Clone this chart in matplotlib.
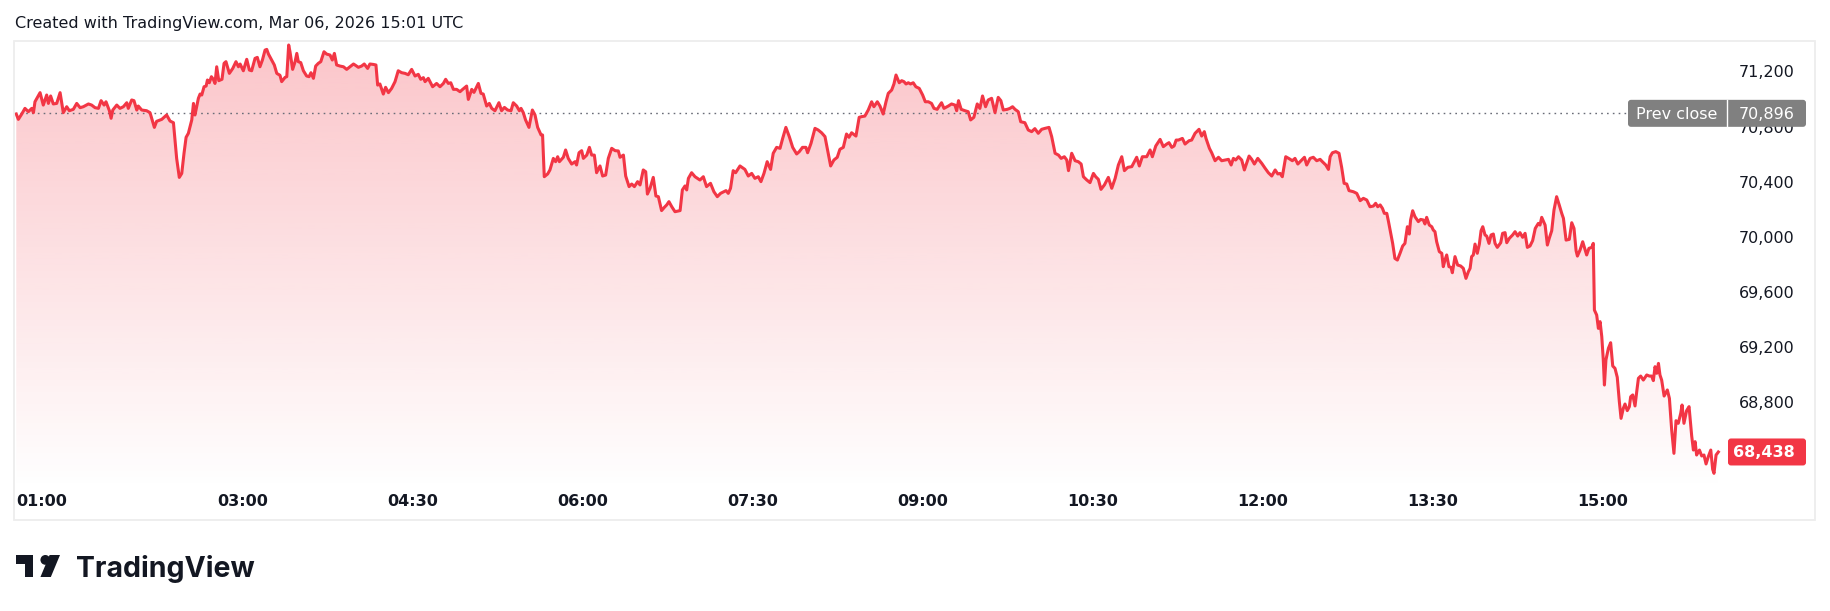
import matplotlib
matplotlib.use("Agg")
import matplotlib.pyplot as plt
import numpy as np
from matplotlib.patches import Polygon, Rectangle, FancyBboxPatch, Circle

# intraday series: minutes after 01:00 and price
minutes = [
    0, 1.1, 2.9, 4.6, 6.4, 8.2, 9.1, 9.9, 12.6, 14.3, 16.1, 17.0, 18.2, 19.6, 21.4, 23.2, 24.9,
    26.7, 28.1, 30.2, 32.0, 33.8, 35.5, 38.2, 39.9, 41.7, 43.5, 44.9, 46.5, 47.5, 49.3, 50.2,
    51.1, 53.2, 54.9, 56.7, 58.5, 59.3, 61.1, 62.3, 63.8, 64.6, 66.4, 69.0, 70.8, 73.1, 74.3,
    77.0, 79.6, 81.4, 83.2, 84.9, 86.3, 87.6, 88.8, 89.9, 91.1, 92.9, 93.8, 94.6, 96.4, 97.3,
    98.2, 99.4, 100.5, 101.2, 102.2, 103.3, 104.3, 105.2, 106.1, 107.2, 108.9, 110.0, 111.0,
    112.8, 114.6, 116.3, 117.6, 118.5, 120.2, 122.0, 123.4, 124.6, 126.4, 127.6, 129.0, 130.3,
    131.7, 132.6, 133.5, 135.2, 136.6, 137.9, 139.6, 140.5, 142.3, 143.2, 144.2, 144.9, 146.3,
    147.6, 148.5, 149.3, 150.6, 152.0, 153.7, 155.0, 156.0, 157.3, 158.5, 159.9, 161.2, 162.9,
    164.3, 166.1, 167.3, 168.4, 169.6, 171.4, 173.2, 174.9, 176.7, 178.5,
    179.3, 181.1, 182.8, 184.2, 186.0, 187.2, 189.0, 190.4, 191.3, 192.5, 194.3, 195.5, 197.0,
    198.7, 200.5, 202.2, 204.0, 205.8, 207.5, 209.3, 211.1, 212.8, 214.1, 215.5, 216.4, 218.1,
    220.4, 222.5, 224.3, 226.1, 227.3, 228.7, 230.0, 231.4, 233.1, 234.9, 236.3, 238.4, 239.3,
    241.1, 242.3, 244.6, 246.0, 247.2, 249.0, 250.4, 251.7, 253.4, 255.5, 256.9, 258.4, 260.1,
    261.9, 263.1, 264.9, 266.3, 267.2, 268.4, 269.6, 271.4, 273.2, 274.6, 276.0, 277.8, 278.6,
    279.5, 281.3, 282.5, 284.3, 285.5, 286.6, 287.5, 289.6, 290.8, 292.2, 294.0, 295.8, 296.6,
    297.9, 299.3, 300.2, 302.0, 303.4, 304.6, 306.0, 307.2, 309.0, 310.4, 312.0, 313.4, 315.2,
    317.0, 318.7, 319.6, 321.4, 322.6, 324.4, 325.8, 327.2, 328.9, 330.2, 331.9, 333.2, 334.1,
    335.5, 337.2, 338.6, 339.9, 341.6, 343.1, 344.3, 345.5, 347.0, 348.7, 351.4, 352.6, 354.0,
    354.9, 355.8, 357.5, 359.3,
    361.9, 363.7, 365.4, 367.5, 369.3, 371.1, 372.8, 375.7, 376.9, 378.1, 379.5, 380.8, 383.1,
    385.7, 387.5, 389.3, 391.0, 392.8, 394.2, 395.8, 397.5, 399.3, 400.7, 402.5, 404.3, 405.7,
    407.4, 409.2, 411.0, 413.1, 414.5, 416.2, 418.0, 418.9, 420.7, 422.8, 424.5, 426.3, 428.1,
    431.1, 432.8, 434.6, 436.0, 437.8, 439.5, 440.8, 442.2, 444.5, 446.2, 447.5, 449.2, 451.0,
    452.8, 454.0, 455.8, 457.2, 458.9, 460.4, 461.6, 463.4, 464.6, 465.7, 467.4, 468.7, 469.9,
    471.0, 472.2, 473.4, 474.8, 476.2, 478.0, 479.8, 481.2, 482.8, 484.5, 485.8, 487.5, 488.6,
    489.8, 491.1, 493.4, 495.1, 496.9, 497.8, 498.8, 500.2, 502.2, 503.9, 505.2, 506.9, 508.7,
    510.1, 511.5, 513.1, 514.5, 516.3, 518.1, 519.8, 521.2, 522.5, 524.6, 526.0, 527.4, 528.7,
    530.4, 531.7, 533.9, 535.7, 537.5, 539.2, 541.0, 542.8,
    544.6, 546.7, 548.1, 549.9, 551.7, 553.1, 554.8, 556.1, 557.0, 558.7, 560.5, 562.2, 563.7,
    564.9, 566.7, 568.4, 570.2, 571.4, 572.8, 574.2, 576.0, 578.1, 579.9, 581.7, 583.4, 585.2,
    586.6, 588.4, 590.5, 593.1, 594.5, 596.1, 598.4, 600.2, 601.4, 603.2, 605.5, 607.2, 609.0,
    610.2, 611.7, 612.9, 614.0, 615.2, 617.3, 618.7, 620.8, 622.2, 624.0, 626.1, 627.5, 628.9,
    629.8, 631.6, 632.8, 634.6, 636.4, 638.1, 639.9, 641.7, 643.1, 644.3, 645.5, 647.0, 648.7,
    650.1, 651.4, 652.6, 654.0, 655.4, 657.2, 659.3, 661.1, 662.8, 664.6, 666.4, 667.8, 669.0,
    670.2, 672.0, 673.8, 675.5, 676.9, 678.4, 680.1, 681.9, 683.1, 684.9, 686.6, 688.4, 690.2,
    691.4, 693.2, 694.6, 695.5, 696.7, 698.5, 700.2, 701.6, 702.9, 704.3, 705.5, 707.8, 709.6,
    711.4, 713.1, 714.9, 716.6, 718.4, 719.6, 720.7, 722.0, 723.2, 724.2, 725.5, 726.4,
    728.6, 729.8, 731.1, 732.5, 733.9, 735.1, 736.4, 737.4, 738.1, 739.2, 740.4, 742.2, 743.4,
    744.8, 745.7, 746.6, 748.0, 749.3, 750.1, 751.0, 751.9, 753.3, 754.6, 755.4, 756.3, 757.2,
    758.4, 759.5, 760.2, 761.6, 763.0, 764.6, 766.0, 767.4, 768.7, 769.6, 770.4, 771.3, 772.2,
    773.4, 774.5, 775.4, 776.3, 777.5, 778.4, 779.6, 780.7, 781.9, 782.8, 784.0, 785.8, 786.8,
    788.1, 789.0, 790.4, 792.1, 793.4, 794.8, 796.0, 797.4, 798.7, 799.9, 801.3, 802.7, 804.1,
    805.7, 806.6, 807.5, 809.3, 810.5, 811.5, 812.8, 814.0, 815.4, 816.8, 818.1, 819.0, 820.4,
    822.1, 823.4, 824.6, 825.7, 826.4, 827.8, 829.2, 830.4, 831.3, 832.5, 834.0, 834.8, 835.4,
    836.6, 837.5, 838.4, 839.3, 840.1, 840.7, 841.5, 842.8, 844.0, 845.1, 846.3, 847.5, 848.6,
    849.5, 850.7, 851.6, 852.8, 853.9, 854.6, 855.7, 856.9, 857.8, 858.7, 859.9, 861.3, 863.1,
    864.5, 865.7, 866.6, 867.5, 868.4, 869.3, 870.1, 871.0, 872.3, 874.0, 875.1, 876.3, 877.5,
    878.6, 879.8, 881.1, 881.8, 882.8, 884.2, 885.5, 886.9, 887.8, 888.7, 889.5, 891.0, 892.2,
    893.4, 894.5, 895.7, 897.0, 898.0, 898.7, 899.8, 901.0,
]
prices = [
    70891, 70852, 70891, 70932, 70908, 70932, 70901, 70980, 71046, 70956, 71029, 70968, 71022, 70964, 70968, 71046, 70901,
    70944, 70915, 70925, 70968, 70937, 70944, 70964, 70956, 70937, 70932, 70988, 70956, 70980, 70915, 70860,
    70920, 70956, 70932, 70944, 70973, 70932, 70993, 70988, 70920, 70949, 70920, 70915, 70901, 70794, 70838,
    70852, 70884, 70840, 70828, 70569, 70431, 70460, 70606, 70722, 70751, 70848, 70968, 70884, 71005, 71036,
    71029, 71089, 71094, 71138, 71118, 71162, 71143, 71113, 71234, 71133, 71143, 71259, 71271,
    71186, 71222, 71271, 71234, 71254, 71205, 71288, 71210, 71205, 71295, 71302, 71234, 71283,
    71355, 71360, 71326, 71283, 71247, 71186, 71172, 71126, 71157, 71162, 71392, 71343, 71215,
    71271, 71331, 71271, 71264, 71205, 71167, 71162, 71191, 71150, 71239, 71259, 71271, 71343,
    71326, 71319, 71283, 71331, 71247, 71239, 71234, 71215, 71234, 71254,
    71247, 71230, 71239, 71254, 71222, 71254, 71251, 71247, 71101, 71109, 71036, 71085, 71046,
    71077, 71126, 71205, 71191, 71186, 71176, 71215, 71167, 71179, 71143, 71155, 71126, 71150,
    71089, 71113, 71089, 71113, 71143, 71113, 71118, 71070, 71070, 71053, 71070, 71094, 70997,
    71070, 71048, 71113, 71041, 71036, 70949, 70968, 70932, 70915, 70973, 70915, 70939, 70920,
    70915, 70973, 70949, 70915, 70932, 70901, 70848, 70794, 70920, 70884, 70794, 70739, 70739,
    70436, 70456, 70485, 70569, 70545, 70581, 70545, 70577, 70630, 70569, 70528, 70545, 70521,
    70610, 70625, 70569, 70593, 70649, 70593, 70593, 70465, 70514, 70441, 70448, 70569, 70642,
    70625, 70623, 70577, 70593, 70441, 70364, 70383, 70364, 70400, 70376, 70485, 70472, 70310,
    70352, 70431, 70296, 70291, 70190, 70214, 70231, 70255, 70218, 70182, 70190, 70340, 70369,
    70340, 70424, 70465, 70436,
    70412, 70436, 70364, 70388, 70327, 70291, 70315, 70335, 70315, 70352, 70480, 70465, 70514,
    70489, 70441, 70460, 70424, 70436, 70400, 70460, 70545, 70489, 70606, 70649, 70642, 70714,
    70794, 70727, 70649, 70601, 70618, 70649, 70649, 70610, 70678, 70787, 70775, 70755, 70727,
    70514, 70557, 70577, 70635, 70649, 70746, 70722, 70755, 70731, 70867, 70872, 70876, 70920,
    70980, 70944, 70980, 70949, 70891, 70980, 71041, 71065, 71109, 71174, 71118, 71133, 71126,
    71109, 71118, 71109, 71118, 71089, 71077, 71029, 70980, 70980, 70968, 70932, 70925, 70949,
    70973, 70932, 70949, 70964, 70956, 70915, 70988, 70925, 70915, 70908, 70848, 70867, 70964,
    70932, 71022, 70944, 70993, 71005, 70901, 71012, 70988, 70920, 70925, 70932, 70944, 70925,
    70908, 70835, 70828, 70775, 70763, 70785, 70751, 70780,
    70787, 70794, 70727, 70606, 70593, 70569, 70581, 70557, 70480, 70606, 70552, 70545, 70528,
    70436, 70412, 70393, 70460, 70436, 70417, 70344, 70376, 70431, 70352, 70424, 70521, 70581,
    70480, 70504, 70509, 70577, 70514, 70581, 70581, 70630, 70581, 70659, 70707, 70654, 70673,
    70683, 70649, 70659, 70702, 70702, 70714, 70673, 70697, 70702, 70751, 70780, 70731, 70763,
    70714, 70642, 70610, 70552, 70577, 70552, 70557, 70562, 70521, 70569, 70557, 70581, 70557,
    70485, 70538, 70586, 70562, 70528, 70569, 70533, 70497, 70465, 70441, 70485, 70456, 70460,
    70436, 70581, 70567, 70552, 70569, 70528, 70552, 70577, 70521, 70569, 70577, 70552, 70562,
    70545, 70521, 70489, 70581, 70610, 70618, 70606, 70504, 70388, 70383, 70335, 70327, 70315,
    70262, 70279, 70267, 70218, 70223, 70243, 70218, 70231, 70206, 70170, 70170, 70110,
    69952, 69843, 69831, 69880, 69933, 69952, 70073, 70020, 70122, 70189, 70146, 70110, 70126,
    70122, 70093, 70141, 70085, 70073, 70049, 70037, 69964, 69892, 69880, 69783, 69831, 69868,
    69783, 69778, 69739, 69856, 69795, 69788, 69771, 69698, 69747, 69771, 69856, 69868, 69947,
    69880, 69947, 70044, 70073, 70013, 70005, 69952, 70013, 70020, 69952, 69923, 69957, 70025,
    70030, 69957, 69989, 70013, 70037, 70005, 70030, 69996, 70025, 69923, 69933, 69972, 70061,
    70097, 70085, 70141, 70085, 69940, 69989, 70044, 70194, 70291, 70230, 70170, 70134, 69976,
    69981, 70102, 70061, 69899, 69860, 69904, 69964, 69909, 69868, 69916, 69923, 69952, 69468,
    69432, 69335, 69384, 69275, 69106, 68924, 69106, 69190, 69231, 69062, 69045, 68980, 68803,
    68682, 68755, 68786, 68738, 68767, 68839, 68852, 68772, 68876, 68973, 68989, 68960, 68997,
    68989, 68989, 68956, 69057, 69009, 69081, 68997, 68960, 68844, 68888, 68827, 68598, 68428,
    68665, 68646, 68719, 68779, 68646, 68738, 68767, 68554, 68452, 68513, 68416, 68452, 68409,
    68416, 68351, 68404, 68452, 68312, 68283, 68416, 68438,
]

prev_close = 70896
last_price = 68438
price_ticks = [68800, 69200, 69600, 70000, 70400, 70800, 71200]
time_ticks = [0, 120, 210, 300, 390, 480, 570, 660, 750, 840]
time_labels = ["01:00", "03:00", "04:30", "06:00", "07:30", "09:00", "10:30", "12:00", "13:30", "15:00"]
header = "Created with TradingView.com, Mar 06, 2026 15:01 UTC"

RED = "#f23645"
INK = "#131722"
W, H = 1830, 611

fig = plt.figure(figsize=(W / 100, H / 100), dpi=100)
fig.patch.set_facecolor("white")

# chart pane (pixel box of the plotting area)
left, right, top, bottom = 14, 1724, 41, 490
ax = fig.add_axes([left / W, 1 - bottom / H, (right - left) / W, (bottom - top) / H])
ax.set_xlim(-1.2, 904)
ax.set_ylim(68162, 71421)
for s in ax.spines.values():
    s.set_visible(False)

# gradient area under the line
ylo, yhi = ax.get_ylim()
grad = np.zeros((256, 1, 4))
grad[:, 0, :3] = matplotlib.colors.to_rgb(RED)
grad[:, 0, 3] = np.linspace(0.0, 0.29, 256)
im = ax.imshow(grad, extent=[minutes[0], minutes[-1], ylo, yhi], origin="lower",
               aspect="auto", zorder=1)
verts = [(minutes[0], ylo)] + list(zip(minutes, prices)) + [(minutes[-1], ylo)]
clip = Polygon(verts, closed=True, transform=ax.transData, facecolor="none", edgecolor="none")
ax.add_patch(clip)
im.set_clip_path(clip)
ax.set_xlim(-1.2, 904)
ax.set_ylim(ylo, yhi)

ax.axhline(prev_close, color="#6a6d78", lw=1.0, linestyle=(0, (1.2, 3.0)), zorder=2)
ax.plot(minutes, prices, color=RED, lw=2.2, solid_joinstyle="round", zorder=3)

# axes text
ax.yaxis.tick_right()
ax.set_yticks(price_ticks, [f"{v:,}" for v in price_ticks])
ax.tick_params(axis="y", length=0, pad=51, labelsize=11.5, labelcolor=INK)
for lab in ax.get_yticklabels():
    lab.set_horizontalalignment("right")
ax.set_xticks(time_ticks, time_labels)
ax.tick_params(axis="x", length=0, pad=3, labelsize=11.5, labelcolor=INK)
for lab in ax.get_xticklabels():
    lab.set_fontweight("bold")
ax.get_xticklabels()[0].set_horizontalalignment("left")

# overlay in pixel coordinates for frame, labels and logo
ov = fig.add_axes([0, 0, 1, 1], zorder=5)
ov.set_xlim(0, W)
ov.set_ylim(H, 0)
ov.axis("off")
ov.patch.set_alpha(0)

ov.add_patch(Rectangle((14, 41), 1815 - 14, 520 - 41, fill=False, ec="#ededed", lw=1.3))

def price_to_px(v):
    return H - ax.transData.transform((0, v))[1]

y_pc = price_to_px(prev_close)
ov.add_patch(FancyBboxPatch((1628, y_pc - 13.5), 178, 27, boxstyle="round,pad=0,rounding_size=3",
                            fc="#808080", ec="none"))
ov.plot([1727, 1727], [y_pc - 13.5, y_pc + 13.5], color="white", lw=1)
ov.text(1677, y_pc + 1, "Prev close", color="white", fontsize=11.5, ha="center", va="center")
ov.text(1795, y_pc + 1, f"{prev_close:,}", color="white", fontsize=11.5, ha="right", va="center")

y_lp = price_to_px(last_price)
ov.add_patch(FancyBboxPatch((1728, y_lp - 13.5), 78, 27, boxstyle="round,pad=0,rounding_size=3",
                            fc=RED, ec="none"))
ov.text(1795, y_lp + 1, f"{last_price:,}", color="white", fontsize=11.5, fontweight="bold",
        ha="right", va="center")

ov.text(15, 28, header, color=INK, fontsize=11.5, ha="left", va="baseline")

# TradingView logo
s = 22 / 18
def lp(x, y):
    return (16 + x * s, 555 + (y - 4) * s)
ov.add_patch(Polygon([lp(0, 4), lp(14, 4), lp(14, 22), lp(7, 22), lp(7, 11), lp(0, 11)],
                     closed=True, fc=INK, ec="none"))
ov.add_patch(Circle(lp(24, 8), 4 * s, fc=INK, ec="none"))
ov.add_patch(Polygon([lp(20, 22), lp(27.5, 4), lp(36, 4), lp(28.5, 22)], closed=True, fc=INK, ec="none"))
ov.text(76, 577, "TradingView", color=INK, fontsize=20.5, fontweight="bold",
        family=["Inter", "DejaVu Sans"], ha="left", va="baseline")

fig.savefig("out.png", dpi=100)
